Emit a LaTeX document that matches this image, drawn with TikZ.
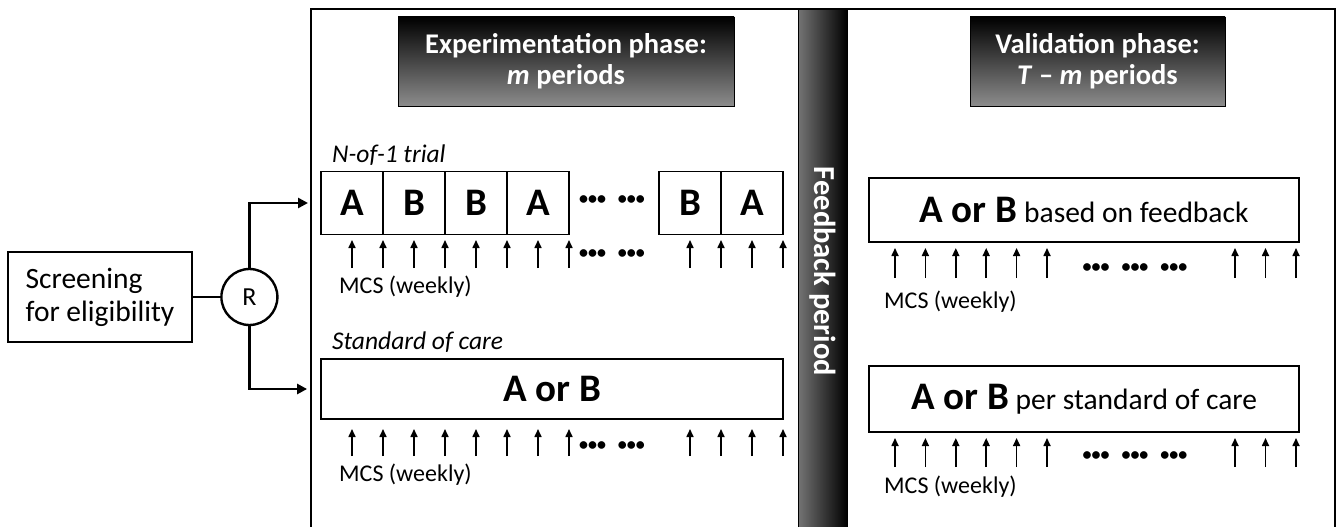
\documentclass[tikz,border=0pt]{standalone}
\usepackage{fontspec}
\setmainfont{Carlito}
\usetikzlibrary{arrows.meta,positioning,calc}

\newcommand{\aorb}{{\fontsize{39}{44}\selectfont\bfseries A or B}}
\newcommand{\trio}{•••}
\newcommand{\dotgap}{\hspace{12pt}}

\begin{document}
\begin{tikzpicture}[
  x=1pt, y=-1pt,
  font=\fontsize{24}{28}\selectfont,
  frame/.style={line width=2pt},
  cell/.style={draw, line width=1.8pt, outer sep=0pt, inner sep=0pt,
               minimum width=62pt, minimum height=63pt,
               font=\fontsize{39}{44}\selectfont\bfseries},
  wide/.style={draw, line width=1.8pt, inner sep=0pt, minimum height=62pt,
               font=\fontsize{29.5}{34}\selectfont},
  head/.style={draw=black, line width=0.8pt, top color=black, bottom color=black!45,
               text=white, align=center, inner sep=0pt, minimum height=89pt,
               font=\fontsize{28.5}{31}\selectfont\bfseries},
  lab/.style={anchor=west, inner sep=0pt, font=\fontsize{25.5}{30}\selectfont\itshape},
  mcs/.style={anchor=west, inner sep=0pt, font=\fontsize{24}{28}\selectfont},
  dots/.style={inner sep=0pt, font=\fontsize{18}{20}\selectfont\bfseries},
  arr/.style={-{Triangle[length=10pt, width=10pt]}, line width=2.8pt},
  tick/.style={-{Triangle[length=8pt, width=7pt]}, line width=1.6pt}
]
\useasboundingbox (0,0) rectangle (1342,527);

% ---------- frame and feedback bar ----------
\draw[frame] (311,527) -- (311,9) -- (1335,9) -- (1335,527);
\node[draw=black, line width=1pt, left color=black!55, right color=black,
      minimum width=49pt, minimum height=518pt, anchor=north west, inner sep=0pt]
      (feedback) at (798,9) {};
\node[rotate=-90, text=white, font=\fontsize{30.5}{34}\selectfont\bfseries]
      (fbtext) at ($(feedback.center)+(0,3)$) {Feedback period};

% ---------- headers ----------
\node[head, minimum width=336pt] (exphead) at (566,61.5)
  {Experimentation phase:\\\textit{m} periods};
\node[head, minimum width=255pt] (valhead) at (1097.5,61.5)
  {Validation phase:\\\textit{T} -- \textit{m} periods};

% ---------- screening and randomisation ----------
\node[draw, line width=2.4pt, minimum width=184pt, minimum height=90pt,
      align=left, font=\fontsize{29.5}{33}\selectfont] (screen) at (100,297)
  {Screening\\for eligibility};
\node[circle, draw, line width=2.4pt, minimum size=56pt, inner sep=0pt,
      font=\fontsize{26}{30}\selectfont, right=27pt of screen] (rnd) {R};
\draw[line width=1.6pt] (screen) -- (rnd);

% ---------- N-of-1 trial ----------
\node[lab] (nof1) at (332,155) {N-of-1 trial};
\node[cell] (c1) at (352,203) {A};
\node[cell, right=0pt of c1] (c2) {B};
\node[cell, right=0pt of c2] (c3) {B};
\node[cell, right=0pt of c3] (c4) {A};
\node[cell] (c5) at (690,203) {B};
\node[cell, right=0pt of c5] (c6) {A};
\node[dots] (d1) at (612,200) {\trio\dotgap\trio};

\foreach \i in {1,...,8} \draw[tick] (321+31*\i,268) -- ++(0,-28);
\foreach \i in {1,...,4} \draw[tick] (659+31*\i,268) -- ++(0,-28);
\node[dots] (d2) at (612,254) {\trio\dotgap\trio};
\node[mcs] (mcs1) at (339,287) {MCS (weekly)};

% ---------- standard of care ----------
\node[lab] (soclab) at (332,342) {Standard of care};
\node[wide, minimum width=462pt, minimum height=60pt] (soc) at (552,389) {\aorb};

\foreach \i in {1,...,8} \draw[tick] (321+31*\i,456) -- ++(0,-27);
\foreach \i in {1,...,4} \draw[tick] (659+31*\i,456) -- ++(0,-27);
\node[dots] (d3) at (612,446) {\trio\dotgap\trio};
\node[mcs] (mcs2) at (339,475) {MCS (weekly)};

\draw[arr, shorten >=13pt] (rnd.north) |- (c1.west);
\draw[arr, shorten >=13pt] (rnd.south) |- (soc.west);

% ---------- validation phase ----------
\node[wide, minimum width=430pt, minimum height=64pt] (fbbox) at (1084,210)
  {\aorb{} based on feedback};
\foreach \i in {0,...,5} \draw[tick] (895+30.4*\i,278) -- ++(0,-30);
\foreach \x in {1235,1265.5,1296} \draw[tick] (\x,278) -- ++(0,-30);
\node[dots] (d4) at (1135,268) {\trio\dotgap\trio\dotgap\trio};
\node[mcs] (mcs3) at (884,302) {MCS (weekly)};

\node[wide, minimum width=430pt, minimum height=66pt] (psoc) at (1084,399)
  {\aorb{} per standard of care};
\foreach \i in {0,...,5} \draw[tick] (895+30.4*\i,467) -- ++(0,-29);
\foreach \x in {1235,1265.5,1296} \draw[tick] (\x,467) -- ++(0,-29);
\node[dots] (d5) at (1135,456) {\trio\dotgap\trio\dotgap\trio};
\node[mcs] (mcs4) at (884,487) {MCS (weekly)};

\end{tikzpicture}
\end{document}
